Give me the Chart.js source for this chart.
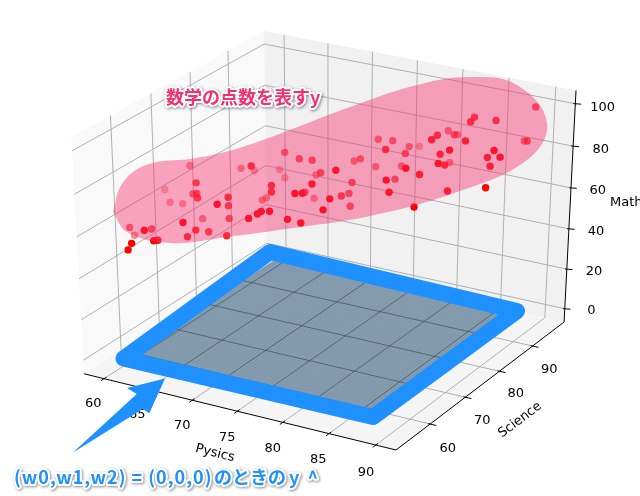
<!DOCTYPE html>
<html lang="ja">
<head>
<meta charset="UTF-8">
<title>3D scatter</title>
<script src="https://cdn.jsdelivr.net/npm/chart.js"></script>
<style>html,body{margin:0;background:#fff}canvas{display:block}</style>
</head>
<body>
<canvas id="grafico" width="640" height="496"></canvas>
<script>
const physics = [58.9,63.3,68.0,63.7,63.2,55.9,61.7,62.8,63.8,57.6,58.7,68.0,67.1,66.6,66.3,62.1,65.8,57.5,62.9,60.2,56.5,
  65.5,65.8,65.0,68.2,64.0,63.5,62.3,62.2,71.0,71.6,71.8,72.5,68.0,70.2,71.3,73.3,74.5,75.0,76.6,78.5,75.3,
  65.4,66.1,69.8,72.4,76.2,70.3,70.5,74.7,74.0,74.6,71.7,66.4,66.5,70.4,77.0,75.6,75.4,75.3,81.0,78.4,81.6,
  75.9,76.8,74.2,75.4,88.1,84.1,84.6,86.3,80.2,82.3,82.7,81.9,81.1,85.5,86.9,88.5,77.8,76.5,78.8,85.2,83.5,
  84.7,84.2,81.0,88.8,87.8,89.5,88.3,77.8,82.2,82.8,85.6,89.3,84.1];
const science = [76.6,79.9,71.6,82.5,68.4,76.6,70.9,69.4,67.3,74.1,74.9,62.7,67.6,68.8,69.6,72.3,59.0,63.9,55.8,63.5,67.2,
  62.8,65.4,61.8,64.5,55.6,57.7,53.9,53.2,63.7,64.6,65.1,65.6,80.5,79.1,79.9,86.5,85.2,88.9,88.9,82.0,87.5,
  85.3,85.0,84.6,79.5,74.2,71.4,70.9,71.5,68.7,69.2,76.9,79.3,77.9,82.6,70.6,77.2,79.8,80.9,75.8,85.0,75.1,
  78.9,69.3,66.2,66.8,99.4,92.4,89.9,92.7,95.4,86.6,83.9,92.6,95.7,86.1,99.8,96.1,90.5,96.9,86.8,82.4,84.3,
  80.6,83.8,93.9,85.4,86.3,85.3,85.8,88.4,78.1,80.4,81.0,81.9,75.6];
const mathScore = [66.1,65.2,79.5,61.7,70.7,51.8,61.3,64.2,65.3,49.9,49.3,71.3,68.3,62.5,55.2,48.1,64.8,49.1,62.1,51.3,40.5,
  56.6,53.1,54.1,54.5,58.4,55.7,57.5,55.1,66.3,67.9,68.7,68.9,76.4,76.8,76.2,70.5,74.0,79.9,80.6,85.4,68.5,
  60.6,57.6,62.7,71.7,82.0,72.6,70.3,77.2,75.2,75.3,64.6,54.4,54.9,54.1,73.3,66.0,64.2,68.1,80.0,68.0,75.6,
  59.5,69.4,66.0,64.7,95.5,94.5,95.4,94.5,81.6,90.5,91.6,84.1,80.2,91.2,77.9,83.2,77.1,69.3,78.7,90.6,85.1,
  85.9,81.2,68.7,90.4,85.3,88.0,82.2,70.1,84.1,79.2,73.3,77.2,70.4];

const physicsTicks = [60,65,70,75,80,85,90];
const scienceTicks = [60,70,80,90];
const mathTicks = [0,20,40,60,80,100];
const xLim = [57.7,92.15], yLim = [50.6,99.8], zLim = [-6.8,106.2];

// prediction plane y^ = 0 when (w0,w1,w2) = (0,0,0)
const planePhysics = [60.7,87.6], planeScience = [55.8,94.5], planeMath = 0, meshStep = .4;

// hand drawn callouts on the figure, in page pixels
const ellipseOutline = [[113,212],[122,184],[146,165],[193,158.5],[225,152],[260,141],[300,126],[350,107],[417,85],[470,77],[517,85],[547,123],[527,160],[457,192],[370,216],[293,228],[227,237],[170,243],[127,232],[113,212]];
const frameOutline = [[123.5,358.5],[270,252],[517,311],[373,417],[123.5,358.5],[270,252]];
const arrowOutline = [[72.7,452.7],[136.7,394],[127,388],[165,378.5],[149.3,413.3],[142.7,409],[72.7,452.7]];
const tickLabels = [['60',93.3,404],['65',137.3,415],['70',182.3,426],['75',227.3,437.3],['80',272.7,449],['85',318.3,460],['90',366,472.3],
  ['60',447.7,448.3],['70',482.3,421],['80',515.7,394],['90',549.3,369.3],
  ['0',591.3,311],['20',594,272],['40',596,232],['60',597.7,191],['80',600.7,150],['100',602.7,107.3]];

// mplot3d default view, elev 30 azim -60 dist 10
const U = [.8660254,.5,0], V = [-.25,.4330127,.8660254], N = [.4330127,-.75,.5];
const SX = 3601, SY = 2701, CX = 327.8, CY = 233.4;
const dot = (a,b) => a[0]*b[0]+a[1]*b[1]+a[2]*b[2];
const unit = (p,s,m) => [(p-xLim[0])/(xLim[1]-xLim[0])-.5,(s-yLim[0])/(yLim[1]-yLim[0])-.5,(m-zLim[0])/(zLim[1]-zLim[0])-.5];
const depth = (p,s,m) => 10-dot(N,unit(p,s,m));
function proj(p,s,m) {
  const q = unit(p,s,m), d = 10-dot(N,q);
  return {x:CX+SX*dot(U,q)/d, y:CY-SY*dot(V,q)/d};
}
const toXY = list => list.map(c => ({x:c[0],y:c[1]}));

const GAP = {x:NaN,y:NaN};
const datasets = [];
function addLayer(id,data,opts) {
  datasets.push(Object.assign({id,data,type:'line',order:500-datasets.length,pointRadius:0,borderWidth:0,fill:false,tension:0},opts));
}
const [x0,x1] = xLim, [y0,y1] = yLim, [z0,z1] = zLim;
const quad = a => a.concat([a[0]]).map(c => proj(c[0],c[1],c[2]));
addLayer('paneX',quad([[x0,y0,z0],[x0,y1,z0],[x0,y1,z1],[x0,y0,z1]]),{fill:'shape',backgroundColor:'#f9f9f9'});
addLayer('paneY',quad([[x0,y1,z0],[x1,y1,z0],[x1,y1,z1],[x0,y1,z1]]),{fill:'shape',backgroundColor:'#f1f1f1'});
addLayer('paneZ',quad([[x0,y0,z0],[x1,y0,z0],[x1,y1,z0],[x0,y1,z0]]),{fill:'shape',backgroundColor:'#f5f5f5'});

const floor = [], grid = [];
physicsTicks.forEach(t => { floor.push(proj(t,y0,z0),proj(t,y1,z0),GAP); grid.push(proj(t,y1,z0),proj(t,y1,z1),GAP); });
scienceTicks.forEach(t => { floor.push(proj(x1,t,z0),proj(x0,t,z0),GAP); grid.push(proj(x0,t,z0),proj(x0,t,z1),GAP); });
mathTicks.forEach(t => grid.push(proj(x0,y0,t),proj(x0,y1,t),proj(x1,y1,t),GAP));
addLayer('grid',floor.concat(grid),{borderWidth:1,borderColor:'#b0b0b0'});
addLayer('axes',[proj(x0,y0,z0),proj(x1,y0,z0),proj(x1,y1,z0),proj(x1,y1,z1)],{borderWidth:1,borderColor:'#000'});

const dx = x1-x0, dy = y1-y0, ticks = [];
physicsTicks.forEach(t => ticks.push(proj(t,y0+.012*dy,z0),proj(t,y0-.016*dy,z0),GAP));
scienceTicks.forEach(t => ticks.push(proj(x1-.006*dx,t,z0),proj(x1+.019*dx,t,z0),GAP));
mathTicks.forEach(t => ticks.push(proj(x1-.005*dx,y1-.0016*dy,t),proj(x1+.0157*dx,y1+.0047*dy,t),GAP));
addLayer('ticks',ticks,{borderWidth:1,borderColor:'#000'});

const [pa,pb] = planePhysics, [sa,sb] = planeScience;
const planeCorners = quad([[pa,sa,planeMath],[pa,sb,planeMath],[pb,sb,planeMath],[pb,sa,planeMath]]);
addLayer('plane',planeCorners,{fill:'shape',backgroundColor:'#7c93a6'});
const mesh = [];
for (let p = pa; p <= pb; p += meshStep) mesh.push(proj(p,sa,planeMath),proj(p,sb,planeMath),GAP);
for (let s = sa; s <= sb; s += meshStep) mesh.push(proj(pa,s,planeMath),proj(pb,s,planeMath),GAP);
addLayer('mesh',mesh,{borderWidth:.6,borderColor:'rgba(205,222,235,.17)'});
addLayer('floorDark',floor,{borderWidth:1,borderColor:'rgba(45,60,72,.55)'});
addLayer('frame',toXY(frameOutline),{borderWidth:16,borderColor:'#1e90ff',borderJoinStyle:'round',borderCapStyle:'round'});

// depthshade: far points fade out
const depths = physics.map((p,i) => depth(p,science[i],mathScore[i]));
const dMin = Math.min(...depths), dMax = Math.max(...depths);
const pointColors = depths.map(d => `rgba(255,0,0,${(1-.7*(d-dMin)/(dMax-dMin)).toFixed(3)})`);
addLayer('scores',physics.map((p,i) => proj(p,science[i],mathScore[i])),{showLine:false,pointRadius:3.7,pointBorderWidth:0,pointBackgroundColor:pointColors});

addLayer('ellipse',toXY(ellipseOutline),{fill:'shape',backgroundColor:'rgba(245,47,110,.43)',tension:.4});
addLayer('arrow',toXY(arrowOutline),{fill:'shape',backgroundColor:'#1e90ff'});

const overlay = {
  id:'overlay',
  beforeDatasetDraw(chart,args) {
    if (chart.data.datasets[args.index].id !== 'floorDark') return;
    const c = chart.ctx;
    c.save();
    c.beginPath();
    planeCorners.forEach((p,i) => {
      const X = chart.scales.x.getPixelForValue(p.x), Y = chart.scales.y.getPixelForValue(p.y);
      i ? c.lineTo(X,Y) : c.moveTo(X,Y);
    });
    c.clip();
  },
  afterDatasetDraw(chart,args) {
    const id = chart.data.datasets[args.index].id, c = chart.ctx;
    if (id === 'floorDark') c.restore();
    if (id !== 'ellipse') return;
    // tick labels go under the arrow
    c.save();
    c.fillStyle = '#000';
    c.textAlign = 'center';
    c.textBaseline = 'middle';
    c.font = '13px "DejaVu Sans"';
    tickLabels.forEach(t => c.fillText(t[0],t[1],t[2]));
    const rot = (s,x,y,a) => { c.save(); c.translate(x,y); c.rotate(a*Math.PI/180); c.fillText(s,0,0); c.restore(); };
    rot('Pysics',215,453.3,14);
    rot('Science',520,420,-37);
    c.textAlign = 'left';
    c.fillText('Math',610,203);
    c.restore();
  },
  afterDatasetsDraw(chart) {
    const c = chart.ctx;
    const label = (s,x,y,col,sp) => {
      c.save();
      c.font = 'bold 18px "Noto Sans CJK JP"';
      c.letterSpacing = sp;
      c.textAlign = 'left';
      c.textBaseline = 'middle';
      c.lineJoin = 'round';
      c.lineWidth = 4;
      c.strokeStyle = '#fff';
      c.shadowColor = 'rgba(0,0,0,.45)';
      c.shadowBlur = 3;
      c.shadowOffsetX = 1;
      c.shadowOffsetY = 1;
      c.strokeText(s,x,y);
      c.shadowColor = 'transparent';
      c.fillStyle = col;
      c.fillText(s,x,y);
      c.restore();
    };
    label('数学の点数を表すy',166,97,'#f5306f','0px');
    label('(w0,w1,w2) = (0,0,0)',14,477,'#1e90ff','1px');
    label('のときの',214,477,'#1e90ff','0px');
    label('y ^',289,477,'#1e90ff','2px');
  }
};

new Chart(document.getElementById('grafico'),{
  type:'scatter',
  data:{datasets},
  plugins:[overlay],
  options:{
    responsive:false,
    animation:false,
    layout:{padding:0,autoPadding:false},
    plugins:{legend:{display:false},tooltip:{enabled:false}},
    scales:{
      x:{type:'linear',min:0,max:640,display:false},
      y:{type:'linear',min:0,max:496,reverse:true,display:false}
    }
  }
});
</script>
</body>
</html>
